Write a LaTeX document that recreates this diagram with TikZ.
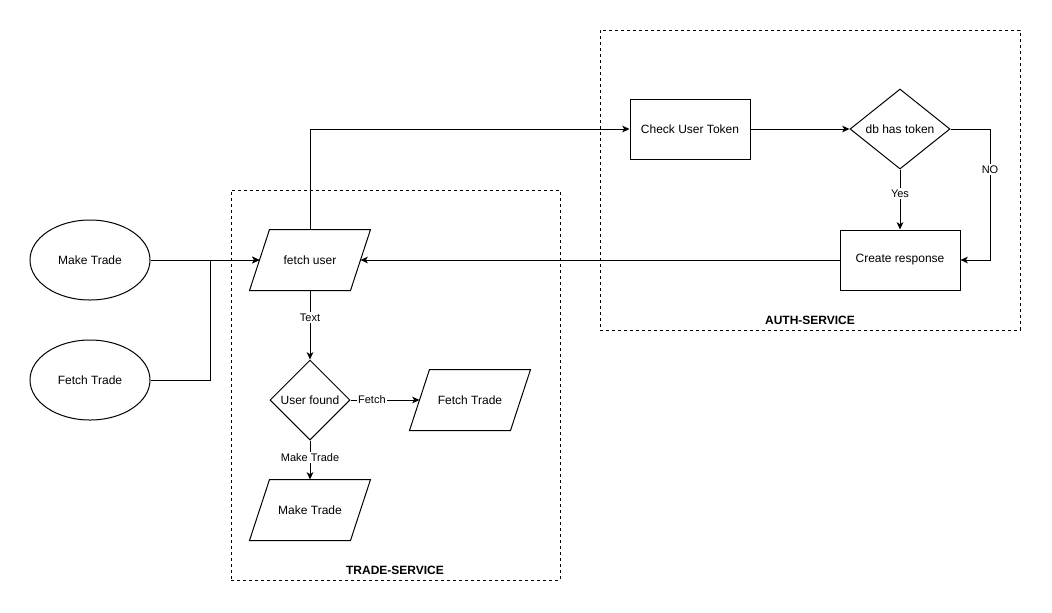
\documentclass[tikz,border=0pt]{standalone}
\usepackage{fontspec}
\setmainfont{Liberation Sans}
\usetikzlibrary{shapes.geometric,arrows.meta}
\begin{document}
\begin{tikzpicture}[x=0.75pt,y=-0.75pt,
  line width=0.75pt,
  base/.style={draw, font=\fontsize{9}{11}\selectfont, inner sep=0pt, align=center},
  proc/.style={base, rectangle, minimum width=90pt, minimum height=45pt},
  term/.style={base, ellipse, minimum width=90pt, minimum height=60pt},
  dec/.style={base, diamond},
  io/.style={draw=none, font=\fontsize{9}{11}\selectfont, rectangle, minimum width=90pt, minimum height=45pt, inner sep=0pt},
  group/.style={draw, dash pattern=on 2.25pt off 2.25pt, rectangle, inner sep=0pt},
  glabel/.style={font=\bfseries\fontsize{9}{11}\selectfont, inner sep=1pt},
  elabel/.style={fill=white, inner sep=1pt, font=\fontsize{8.25}{10}\selectfont},
  conn/.style={-{Stealth[length=5.5pt,width=5pt,inset=1.5pt]}},
]
\useasboundingbox (0,0) rectangle (1052,612);

% groups
\node[group, minimum width=246.75pt, minimum height=292.5pt] (trade) at (395.5,385) {};
\node[group, minimum width=315pt, minimum height=225pt] (auth) at (810,180) {};
\node[glabel] (tradelbl) at (395,570) {TRADE-SERVICE};
\node[glabel] (authlbl) at (810,320) {AUTH-SERVICE};

% nodes
\node[term] (mt) at (90,260) {Make Trade};
\node[term] (ft) at (90,380) {Fetch Trade};
\node[io] (fu) at (310,260) {fetch user};
\node[dec, minimum width=60pt, minimum height=60pt] (uf) at (310,400) {User found};
\node[io] (ftp) at (470,400) {Fetch Trade};
\node[io] (mtp) at (310,510) {Make Trade};
\node[proc] (cut) at (690,129) {Check User Token};
\node[dec, minimum width=75pt, minimum height=60pt] (db) at (900,129) {db has token};
\node[proc] (cr) at (900,260) {Create response};

\foreach \n in {fu,ftp,mtp}
  \draw ([xshift=15pt]\n.north west) -- (\n.north east) -- ([xshift=-15pt]\n.south east) -- (\n.south west) -- cycle;

% connectors
\coordinate (j) at (210,260);
\coordinate (no1) at (990,129);
\coordinate (no2) at (990,260);
\draw[conn] (mt.east) -- ([xshift=7.5pt]fu.west);
\draw[conn] (ft.east) -| (j) -- ([xshift=7.5pt]fu.west);
\draw[conn] (fu.north) |- (cut.west);
\draw[conn] (cut.east) -- (db.west);
\draw[conn] (db.south) -- node[elabel, pos=0.4] (yes) {Yes} (cr.north);
\draw[conn] (db.east) -- (no1) -- node[elabel, pos=0.31] (nolbl) {NO} (no2) -- (cr.east);
\draw[conn] (cr.west) -- ([xshift=-7.5pt]fu.east);
\draw[conn] (fu.south) -- node[elabel, pos=0.39] (txt) {Text} (uf.north);
\draw[conn] (uf.east) -- node[elabel, pos=0.31] (fetchlbl) {Fetch} ([xshift=7.5pt]ftp.west);
\draw[conn] (uf.south) -- node[elabel, pos=0.43] (mtlbl) {Make Trade} (mtp.north);
\end{tikzpicture}
\end{document}
